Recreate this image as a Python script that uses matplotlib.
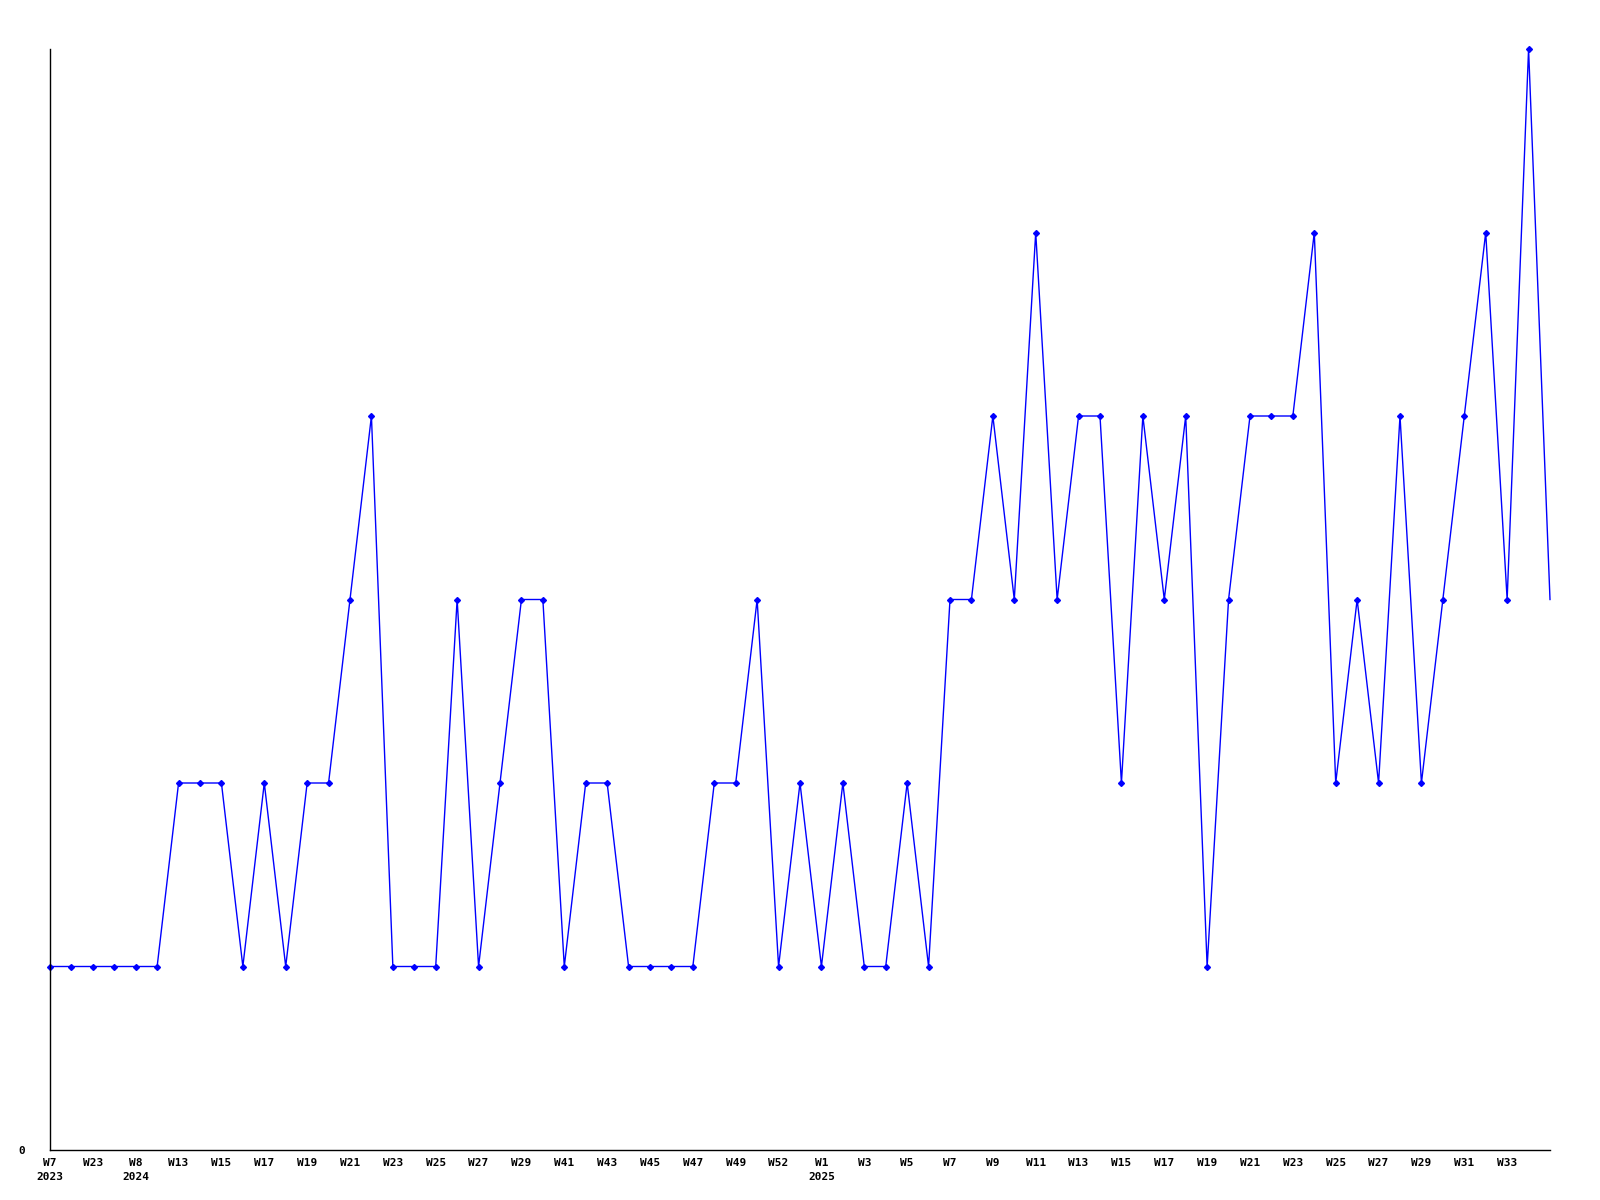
import matplotlib
matplotlib.use("Agg")
import matplotlib.pyplot as plt

values = [1, 1, 1, 1, 1, 1, 2, 2, 2, 1, 2, 1, 2, 2, 3, 4, 1, 1, 1, 3,
          1, 2, 3, 3, 1, 2, 2, 1, 1, 1, 1, 2, 2, 3, 1, 2, 1, 2, 1, 1,
          2, 1, 3, 3, 4, 3, 5, 3, 4, 4, 2, 4, 3, 4, 1, 3, 4, 4, 4, 5,
          2, 3, 2, 4, 2, 3, 4, 5, 3, 6, 3]

tick_labels = ["W7\n2023", "W23", "W8\n2024", "W13", "W15", "W17", "W19", "W21",
               "W23", "W25", "W27", "W29", "W41", "W43", "W45", "W47", "W49",
               "W52", "W1\n2025", "W3", "W5", "W7", "W9", "W11", "W13", "W15",
               "W17", "W19", "W21", "W23", "W25", "W27", "W29", "W31", "W33"]

fig = plt.figure(figsize=(16, 12), dpi=100)
ax = fig.add_axes([50 / 1600, 1 - 1150 / 1200, 1500 / 1600, 1101 / 1200])

x = list(range(len(values)))
ax.plot(x, values, color="#0000ff", linewidth=1.0, marker="D", markersize=3,
        markevery=list(range(len(values) - 1)), clip_on=False)

ax.set_xlim(0, len(values) - 1)
ax.set_ylim(0, 6)

ax.set_xticks(list(range(0, 2 * len(tick_labels), 2)))
ax.set_xticklabels(tick_labels, fontfamily="DejaVu Sans Mono", fontweight="bold",
                   fontsize=8, linespacing=1.5, va="top")
ax.set_yticks([0])
ax.set_yticklabels(["0"], fontfamily="DejaVu Sans Mono", fontweight="bold", fontsize=8)
ax.tick_params(axis="x", length=0, pad=6)
ax.tick_params(axis="y", length=0, pad=18)

for s in ["top", "right"]:
    ax.spines[s].set_visible(False)
for s in ["left", "bottom"]:
    ax.spines[s].set_color("black")
    ax.spines[s].set_linewidth(1.0)

fig.savefig("out.png", dpi=100, facecolor="white")
